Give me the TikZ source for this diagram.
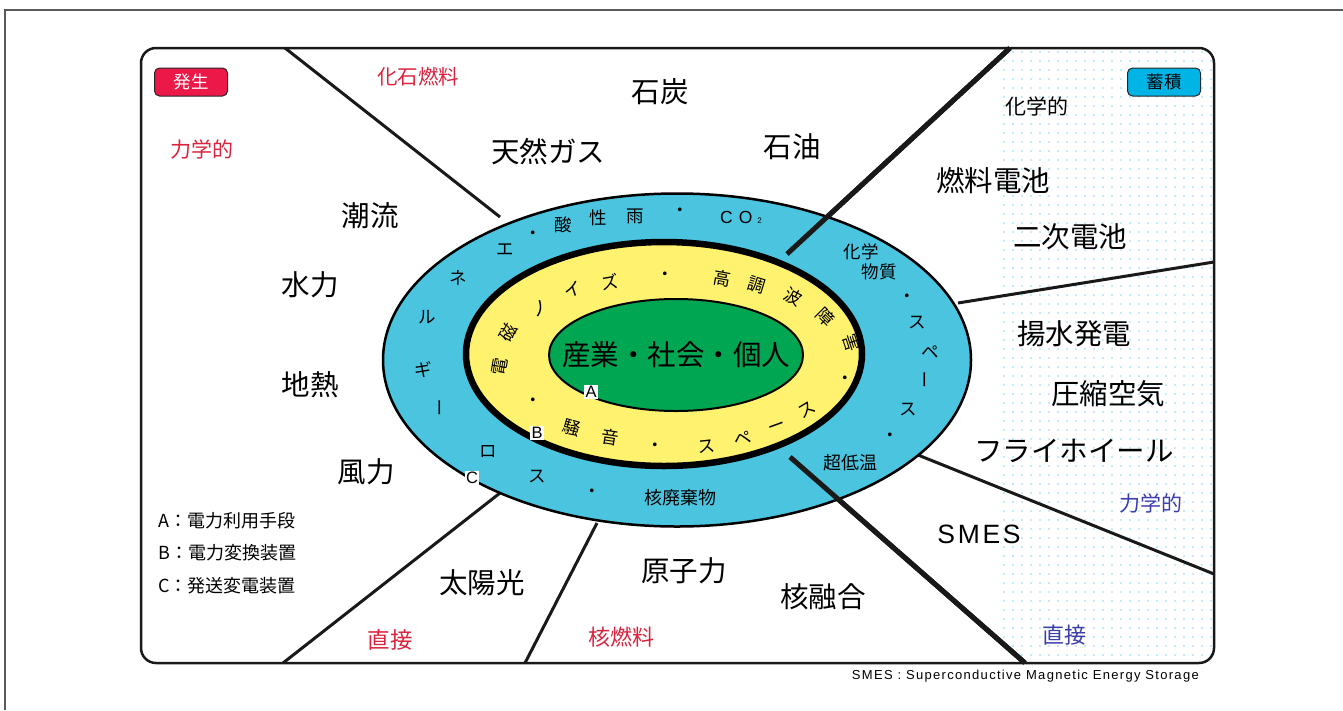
\documentclass[tikz,border=0pt]{standalone}
\usepackage{fontspec}
\setmainfont{Noto Sans CJK JP}
\newfontfamily\lat{Liberation Sans}
\definecolor{ringblue}{RGB}{75,196,224}
\definecolor{ringyellow}{RGB}{255,242,110}
\definecolor{coregreen}{RGB}{0,166,81}
\definecolor{jred}{RGB}{218,35,62}
\definecolor{badgered}{RGB}{236,24,72}
\definecolor{badgeblue}{RGB}{0,180,230}
\definecolor{jblue}{RGB}{60,60,170}
\definecolor{dotblue}{RGB}{0,176,236}
\begin{document}
\begin{tikzpicture}[x=1pt,y=-1pt,
  big/.style={font=\fontsize{28.5}{31}\selectfont, inner sep=0},
  cat/.style={font=\fontsize{21}{24}\selectfont, inner sep=0},
  ringtxt/.style={font=\fontsize{17.5}{19}\selectfont, inner sep=0},
  legend/.style={font=\fontsize{18}{20}\selectfont, anchor=west, inner sep=0},
  badge/.style={draw=black!85, line width=1pt, rounded corners=5pt, minimum width=73pt, minimum height=28pt, inner sep=0, font=\fontsize{17.5}{19}\selectfont},
  abc/.style={fill=white, inner sep=1.5pt, font=\lat\fontsize{16.5}{17}\selectfont},
  ray/.style={line width=3pt, black!90},
  thickray/.style={line width=5pt, black!90}]
\useasboundingbox (0,0) rectangle (1343,710);
\draw[black!65, line width=1.5pt] (5,710) -- (5,10) -- (1343,10);

\coordinate (l1a) at (285,48);   \coordinate (l1b) at (500,217);
\coordinate (l2a) at (1010,48);  \coordinate (l2b) at (787,254);
\coordinate (l3a) at (1214,262); \coordinate (l3b) at (958,303);
\coordinate (l4a) at (1214,574); \coordinate (l4b) at (918,455);
\coordinate (l5a) at (1025,663); \coordinate (l5b) at (790,457);
\coordinate (l6a) at (525,663);  \coordinate (l6b) at (597,523);
\coordinate (l7a) at (283,663);  \coordinate (l7b) at (500,493);

\begin{scope}
  \clip[rounded corners=15pt] (141,48) rectangle (1214,663);
  \begin{scope}
    \clip (l2a) -- (1230,40) -- (1230,670) -- (l5a) -- (l5b) -- (l2b) -- cycle;
    \foreach \i in {0,...,24}{\foreach \j in {0,...,69}{
      \fill[dotblue] (1004+9*\i,52+9*\j) circle (0.7);}}
  \end{scope}
  \draw[ray] (l1a) -- (l1b);
  \draw[ray] (l3a) -- (l3b);
  \draw[ray] (l4a) -- (l4b);
  \draw[ray] (l6a) -- (l6b);
  \draw[ray] (l7a) -- (l7b);
  \draw[thickray] (l2a) -- (l2b);
  \draw[thickray] (l5a) -- (l5b);
\end{scope}

% rings
\draw[fill=ringblue, line width=2.5pt] (677,360) ellipse [x radius=294, y radius=166.5];
\draw[thickray] (l2a) -- (l2b);
\draw[thickray] (l5a) -- (l5b);
\draw[fill=ringyellow, line width=6.5pt] (664,354) ellipse [x radius=198, y radius=112];
\draw[fill=coregreen, line width=2pt] (676,355) ellipse [x radius=127, y radius=56];
\node[big] (core) at (676,355) {産業・社会・個人};

% outer frame
\draw[line width=2.5pt, black!90, rounded corners=15pt] (141,48) rectangle (1214,663);

% blue ring text
\foreach \x/\y/\t [count=\n] in {458/278/ネ, 505/250/エ, 533/235/・, 563/225/酸, 598/218/性, 635/216/雨, 680/212/・, 427/317/ル, 423/370/ギ, 488/452/ロ, 537/477/ス, 592/493/・, 907/298/・, 917/323/ス, 930/352/ペ, 908/410/ス, 890/437/・}
  \node[ringtxt] (b\n) at (\x,\y) {\t};
\node[ringtxt, rotate=90] (bbar1) at (443,408) {ー};
\node[ringtxt, rotate=90] (bbar2) at (928,380) {ー};
\node[ringtxt] (co2) at (741,217) {\lat C\hspace{6pt}O\hspace{5pt}{\fontsize{8}{8}\selectfont 2}};
\node[ringtxt] (kagaku) at (861,252) {化学};
\node[ringtxt] (busshitsu) at (879,272) {物質};
\node[ringtxt, font=\fontsize{18}{20}\selectfont] (kaku) at (680,498) {核廃棄物};
\node[ringtxt, font=\fontsize{18}{20}\selectfont] (teion) at (850,463) {超低温};

% yellow ring text
\foreach \x/\y/\t/\r [count=\n] in {500/367/電/80, 508/333/磁/60, 540/308/ノ/32, 573/290/イ/18, 610/282/ズ/10, 665/276/・/0, 722/278/高/-10, 757/285/調/-17, 793/297/波/-28, 825/317/障/-45, 852/343/害/-72, 845/380/・/0, 807/410/ス/31, 777/428/ー/20, 743/438/ペ/12, 707/447/ス/6, 655/447/・/0, 610/437/音/-9, 572/428/騒/-16, 533/402/・/0}
  \node[ringtxt, rotate=\r] (y\n) at (\x,\y) {\t};

% A B C
\node[abc] (A) at (591,392) {A};
\node[abc] (B) at (537,433) {B};
\node[abc] (C) at (472,478) {C};

% badges
\node[badge, fill=badgered, text=white] (hassei) at (191,82) {発生};
\node[badge, fill=badgeblue] (chikuseki) at (1164,82) {蓄積};

% generation side
\node[cat, text=jred, font=\fontsize{20.5}{22}\selectfont] (kaseki) at (418,77) {化石燃料};
\node[cat, text=jred] (rikigakuL) at (202,150) {力学的};
\node[big] (sekitan) at (660,92) {石炭};
\node[big] (tennen) at (548,152) {天然ガス};
\node[big] (sekiyu) at (792,147) {石油};
\node[big] (choryu) at (370,216) {潮流};
\node[big] (suiryoku) at (310,285) {水力};
\node[big] (chinetsu) at (310,385) {地熱};
\node[big] (furyoku) at (366,472) {風力};
\node[big] (taiyo) at (482,583) {太陽光};
\node[cat, text=jred, font=\fontsize{22.5}{24}\selectfont] (chokuL) at (390,640) {直接};
\node[cat, text=jred, font=\fontsize{22}{24}\selectfont] (kakunen) at (621,637) {核燃料};
\node[big] (genshi) at (684,571) {原子力};
\node[big] (yugo) at (823,597) {核融合};

% legend
\node[legend] (legA) at (158,521) {A：電力利用手段};
\node[legend] (legB) at (158,553) {B：電力変換装置};
\node[legend] (legC) at (158,586) {C：発送変電装置};

% storage side
\node[cat] (kagakuteki) at (1037,106) {化学的};
\node[big] (nenryo) at (993,181) {燃料電池};
\node[big] (niji) at (1070,237) {二次電池};
\node[big] (yosui) at (1074,334) {揚水発電};
\node[big] (asshuku) at (1108,394) {圧縮空気};
\node[big] (fly) at (1074,451) {フライホイール};
\node[cat, text=jblue] (rikigakuR) at (1151,503) {力学的};
\node[inner sep=0, font=\lat\fontsize{26.5}{28}\selectfont\addfontfeature{LetterSpace=10}] (smes) at (979,534) {SMES};
\node[cat, text=jblue, font=\fontsize{22}{24}\selectfont] (chokuR) at (1064,635) {直接};

\node[anchor=east, inner sep=0, font=\lat\fontsize{13}{15}\selectfont\addfontfeature{LetterSpace=10}] (fn) at (1199,676) {SMES : Superconductive Magnetic Energy Storage};
\end{tikzpicture}
\end{document}
